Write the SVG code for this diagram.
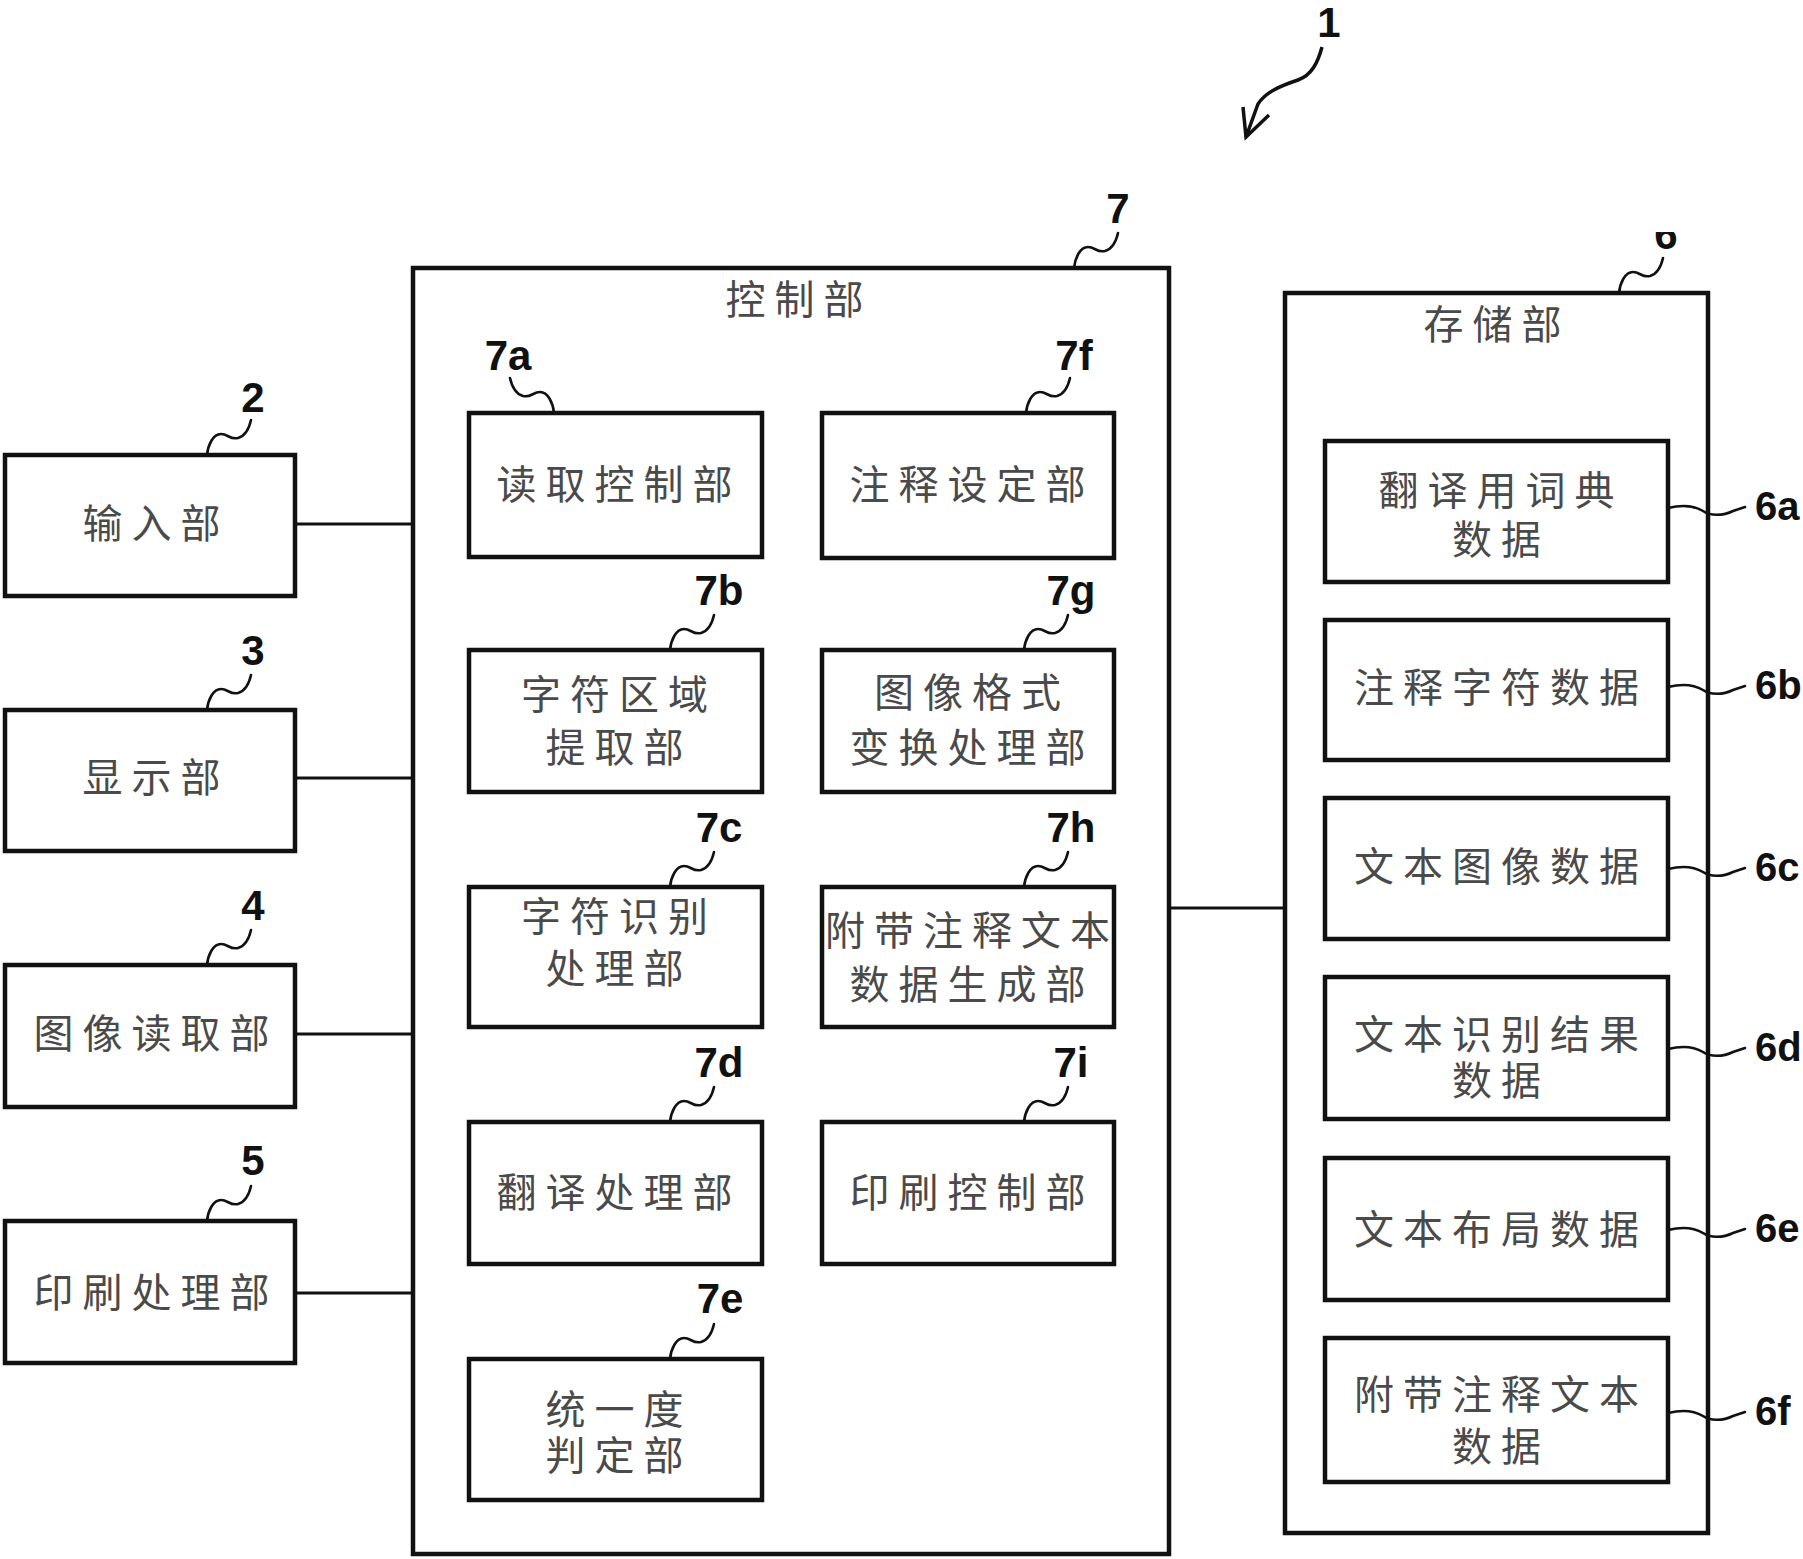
<svg xmlns="http://www.w3.org/2000/svg" width="1803" height="1559" viewBox="0 0 1803 1559">
<style>
.box{fill:#fff;stroke:#111;stroke-width:4.5}
.frame{fill:none;stroke:#111;stroke-width:4.5}
.ln{fill:none;stroke:#111;stroke-width:3}
.sq{fill:none;stroke:#111;stroke-width:2.6;stroke-linecap:round}
.t{font-family:"Noto Sans CJK SC","Noto Sans CJK JP",sans-serif;font-size:40px;fill:#4a4a4a;letter-spacing:9px;text-anchor:middle}
.lb{font-family:"Liberation Sans",Arial,sans-serif;font-weight:bold;font-size:42px;fill:#111;text-anchor:middle}
.lbs{font-family:"Liberation Sans",Arial,sans-serif;font-weight:bold;font-size:40px;fill:#111;text-anchor:start}
</style>
<defs>
<path id="sq" d="M0,0 C1,-10 6,-21 14,-21 C21,-21 23,-15 31,-17 C38,-19 42,-26 44,-35"/>
<path id="ld" d="M0,0 C12,-3 25,-3 35,3 C42,8 55,8 65,3 L77,-1"/>
<clipPath id="clip6"><rect x="1640" y="232" width="60" height="40"/></clipPath>
</defs>
<rect width="1803" height="1559" fill="#fff"/>

<g id="connectors">
<line class="ln" x1="295" y1="524" x2="413" y2="524"/>
<line class="ln" x1="295" y1="778" x2="413" y2="778"/>
<line class="ln" x1="295" y1="1034" x2="413" y2="1034"/>
<line class="ln" x1="295" y1="1293" x2="413" y2="1293"/>
<line class="ln" x1="1170" y1="908" x2="1285" y2="908"/>
</g>

<g id="system-1">
<text class="lb" x="1329" y="37">1</text>
<path class="ln" style="stroke-width:3.5" d="M1322,47 C1318,62 1312,75 1298,80 C1280,86 1266,92 1258,104 L1246,137"/>
<path class="ln" style="stroke-width:3.5" d="M1243,107 L1246,137 L1269,115"/>
</g>

<g id="input-2">
<rect class="box" x="5" y="455" width="290" height="141"/>
<text class="t" x="156" y="538">输入部</text>
<use href="#sq" class="sq" x="207" y="455"/>
<text class="lb" x="253" y="412">2</text>
</g>
<g id="display-3">
<rect class="box" x="5" y="710" width="290" height="141"/>
<text class="t" x="156" y="792">显示部</text>
<use href="#sq" class="sq" x="207" y="710"/>
<text class="lb" x="253" y="665">3</text>
</g>
<g id="imageread-4">
<rect class="box" x="5" y="965" width="290" height="142"/>
<text class="t" x="156" y="1048">图像读取部</text>
<use href="#sq" class="sq" x="207" y="965"/>
<text class="lb" x="253" y="920">4</text>
</g>
<g id="print-5">
<rect class="box" x="5" y="1221" width="290" height="142"/>
<text class="t" x="156" y="1307">印刷处理部</text>
<use href="#sq" class="sq" x="207" y="1221"/>
<text class="lb" x="253" y="1175">5</text>
</g>

<g id="control-7">
<rect class="frame" x="413" y="268" width="756" height="1286"/>
<text class="t" x="799" y="314">控制部</text>
<use href="#sq" class="sq" x="1074" y="268"/>
<text class="lb" x="1118" y="223">7</text>
</g>
<g id="node-7a">
<rect class="box" x="469" y="413" width="293" height="144"/>
<text class="t" x="619" y="499">读取控制部</text>
<use href="#sq" class="sq" transform="translate(554,413) scale(-1,1)"/>
<text class="lb" x="508" y="370">7a</text>
</g>
<g id="node-7b">
<rect class="box" x="469" y="650" width="293" height="142"/>
<text class="t" x="619" y="709">字符区域</text>
<text class="t" x="619" y="762">提取部</text>
<use href="#sq" class="sq" x="670" y="650"/>
<text class="lb" x="719" y="605">7b</text>
</g>
<g id="node-7c">
<rect class="box" x="469" y="887" width="293" height="140"/>
<text class="t" x="619" y="931">字符识别</text>
<text class="t" x="619" y="983">处理部</text>
<use href="#sq" class="sq" x="670" y="887"/>
<text class="lb" x="719" y="842">7c</text>
</g>
<g id="node-7d">
<rect class="box" x="469" y="1122" width="293" height="142"/>
<text class="t" x="619" y="1207">翻译处理部</text>
<use href="#sq" class="sq" x="670" y="1122"/>
<text class="lb" x="719" y="1077">7d</text>
</g>
<g id="node-7e">
<rect class="box" x="469" y="1359" width="293" height="141"/>
<text class="t" x="619" y="1424">统一度</text>
<text class="t" x="619" y="1470">判定部</text>
<use href="#sq" class="sq" x="670" y="1359"/>
<text class="lb" x="720" y="1313">7e</text>
</g>
<g id="node-7f">
<rect class="box" x="822" y="413" width="292" height="145"/>
<text class="t" x="972" y="499">注释设定部</text>
<use href="#sq" class="sq" x="1026" y="413"/>
<text class="lb" x="1074" y="370">7f</text>
</g>
<g id="node-7g">
<rect class="box" x="822" y="650" width="292" height="142"/>
<text class="t" x="972" y="707">图像格式</text>
<text class="t" x="972" y="762">变换处理部</text>
<use href="#sq" class="sq" x="1024" y="650"/>
<text class="lb" x="1071" y="605">7g</text>
</g>
<g id="node-7h">
<rect class="box" x="822" y="887" width="292" height="140"/>
<text class="t" x="972" y="945">附带注释文本</text>
<text class="t" x="972" y="999">数据生成部</text>
<use href="#sq" class="sq" x="1024" y="887"/>
<text class="lb" x="1071" y="842">7h</text>
</g>
<g id="node-7i">
<rect class="box" x="822" y="1122" width="292" height="142"/>
<text class="t" x="972" y="1207">印刷控制部</text>
<use href="#sq" class="sq" x="1024" y="1122"/>
<text class="lb" x="1071" y="1077">7i</text>
</g>

<g id="storage-6">
<rect class="frame" x="1285" y="293" width="423" height="1240"/>
<text class="t" x="1497" y="339">存储部</text>
<use href="#sq" class="sq" x="1619" y="293"/>
<text class="lb" x="1666" y="249" clip-path="url(#clip6)">6</text>
</g>
<g id="node-6a">
<rect class="box" x="1325" y="441" width="343" height="141"/>
<text class="t" x="1501" y="505">翻译用词典</text>
<text class="t" x="1501" y="554">数据</text>
<use href="#ld" class="sq" x="1668" y="508"/>
<text class="lbs" x="1755" y="520">6a</text>
</g>
<g id="node-6b">
<rect class="box" x="1325" y="620" width="343" height="140"/>
<text class="t" x="1501" y="702">注释字符数据</text>
<use href="#ld" class="sq" x="1668" y="687"/>
<text class="lbs" x="1755" y="699">6b</text>
</g>
<g id="node-6c">
<rect class="box" x="1325" y="798" width="343" height="141"/>
<text class="t" x="1501" y="881">文本图像数据</text>
<use href="#ld" class="sq" x="1668" y="869"/>
<text class="lbs" x="1755" y="881">6c</text>
</g>
<g id="node-6d">
<rect class="box" x="1325" y="977" width="343" height="142"/>
<text class="t" x="1501" y="1049">文本识别结果</text>
<text class="t" x="1501" y="1095">数据</text>
<use href="#ld" class="sq" x="1668" y="1049"/>
<text class="lbs" x="1755" y="1061">6d</text>
</g>
<g id="node-6e">
<rect class="box" x="1325" y="1158" width="343" height="142"/>
<text class="t" x="1501" y="1244">文本布局数据</text>
<use href="#ld" class="sq" x="1668" y="1230"/>
<text class="lbs" x="1755" y="1242">6e</text>
</g>
<g id="node-6f">
<rect class="box" x="1325" y="1338" width="343" height="144"/>
<text class="t" x="1501" y="1409">附带注释文本</text>
<text class="t" x="1501" y="1461">数据</text>
<use href="#ld" class="sq" x="1668" y="1413"/>
<text class="lbs" x="1755" y="1425">6f</text>
</g>
</svg>
